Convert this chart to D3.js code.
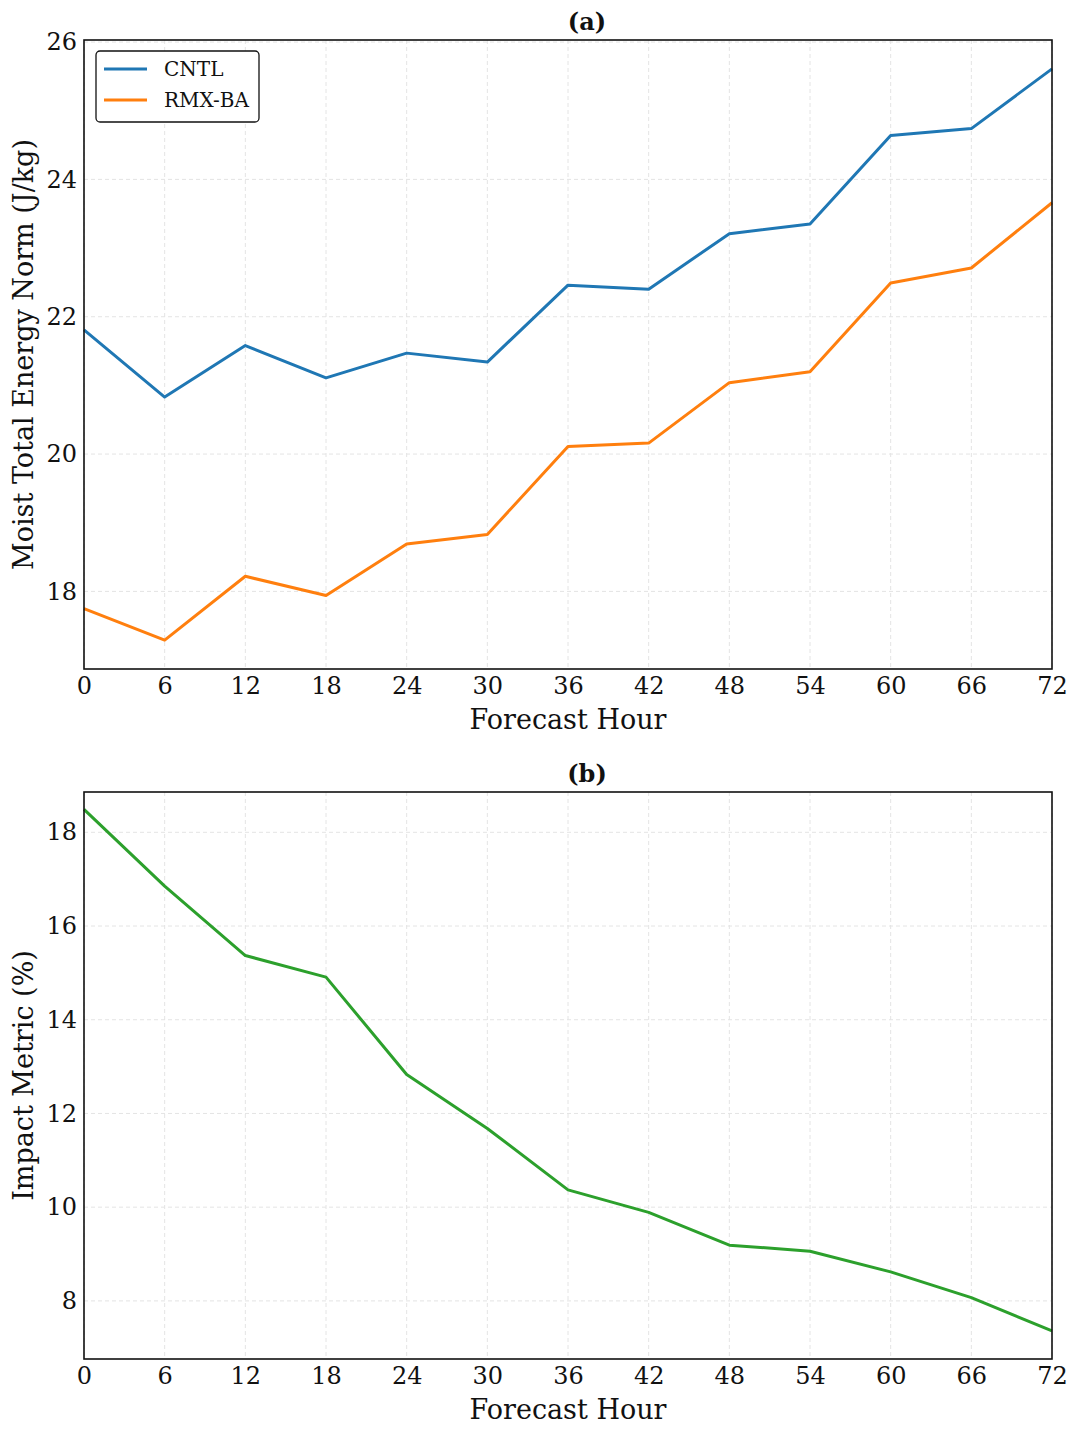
<!DOCTYPE html>
<html lang="en">
<head>
    <meta charset="UTF-8">
    <title>Forecast Hour Energy Norm</title>
    <style>
        body {
            margin: 0;
            padding: 0;
            background-color: #ffffff;
            overflow: hidden;
        }

        svg {
            display: block;
            font-family: "DejaVu Serif", serif;
        }

        .grid line {
            stroke: #e4e4e4;
            stroke-width: 1;
            stroke-dasharray: 4 3;
        }
    </style>
</head>
<body>
    <script src="https://d3js.org/d3.v7.min.js"></script>
    <script>
        const hours = [0, 6, 12, 18, 24, 30, 36, 42, 48, 54, 60, 66, 72];
        const cntl = [21.81, 20.83, 21.58, 21.11, 21.47, 21.34, 22.46, 22.40, 23.21, 23.35, 24.64, 24.74, 25.61];
        const rmxba = [17.75, 17.29, 18.22, 17.94, 18.69, 18.83, 20.11, 20.16, 21.04, 21.20, 22.49, 22.71, 23.66];
        const impact = [18.49, 16.85, 15.37, 14.91, 12.83, 11.68, 10.37, 9.89, 9.19, 9.06, 8.62, 8.07, 7.36];
        const ticksA = [18, 20, 22, 24, 26];
        const ticksB = [8, 10, 12, 14, 16, 18];

        const width = 1079;
        const height = 1438;
        const left = 84;
        const right = 1052;

        const svg = d3.select('body')
            .append('svg')
            .attr('width', width)
            .attr('height', height);

        const x = d3.scaleLinear().domain([0, 72]).range([left, right]);

        function drawPanel(opts) {
            const y = d3.scaleLinear().domain(opts.domain).range([opts.bottom, opts.top]);
            const g = svg.append('g');

            // grid
            const grid = g.append('g').attr('class', 'grid');
            grid.selectAll('.gx')
                .data(hours)
                .enter()
                .append('line')
                .attr('x1', d => x(d))
                .attr('x2', d => x(d))
                .attr('y1', opts.top)
                .attr('y2', opts.bottom);
            grid.selectAll('.gy')
                .data(opts.ticks)
                .enter()
                .append('line')
                .attr('x1', left)
                .attr('x2', right)
                .attr('y1', d => y(d))
                .attr('y2', d => y(d));

            // series
            const line = d3.line()
                .x((d, i) => x(hours[i]))
                .y(d => y(d));
            opts.series.forEach(s => {
                g.append('path')
                    .datum(s.values)
                    .attr('fill', 'none')
                    .attr('stroke', s.color)
                    .attr('stroke-width', 3)
                    .attr('stroke-linejoin', 'round')
                    .attr('d', line);
            });

            // axes
            const xAxis = g.append('g')
                .attr('transform', `translate(0,${opts.bottom})`)
                .call(d3.axisBottom(x).tickValues(hours).tickSize(0).tickPadding(8));
            const yAxis = g.append('g')
                .attr('transform', `translate(${left},0)`)
                .call(d3.axisLeft(y).tickValues(opts.ticks).tickSize(0).tickPadding(7));
            [xAxis, yAxis].forEach(a => {
                a.select('.domain').remove();
                a.selectAll('text')
                    .attr('font-family', '"DejaVu Serif", serif')
                    .attr('font-size', 24)
                    .attr('fill', '#111');
            });

            g.append('rect')
                .attr('x', left)
                .attr('y', opts.top)
                .attr('width', right - left)
                .attr('height', opts.bottom - opts.top)
                .attr('fill', 'none')
                .attr('stroke', '#111')
                .attr('stroke-width', 1.6);

            // title and labels
            g.append('text')
                .attr('x', (left + right) / 2 + 19)
                .attr('y', opts.top - 10)
                .attr('text-anchor', 'middle')
                .attr('font-size', 24)
                .attr('font-weight', 'bold')
                .attr('fill', '#111')
                .text(opts.title);

            g.append('text')
                .attr('x', (left + right) / 2)
                .attr('y', opts.bottom + 60)
                .attr('text-anchor', 'middle')
                .attr('font-size', 27)
                .attr('fill', '#111')
                .text('Forecast Hour');

            g.append('text')
                .attr('transform', `translate(33,${(opts.top + opts.bottom) / 2}) rotate(-90)`)
                .attr('text-anchor', 'middle')
                .attr('font-size', 27)
                .attr('fill', '#111')
                .text(opts.ylabel);

            return g;
        }

        const panelA = drawPanel({
            top: 40,
            bottom: 669,
            domain: [16.87, 26.03],
            ticks: ticksA,
            title: '(a)',
            ylabel: 'Moist Total Energy Norm (J/kg)',
            series: [
                { name: 'CNTL', values: cntl, color: '#1f77b4' },
                { name: 'RMX-BA', values: rmxba, color: '#ff7f0e' }
            ]
        });

        drawPanel({
            top: 792,
            bottom: 1359,
            domain: [6.76, 18.86],
            ticks: ticksB,
            title: '(b)',
            ylabel: 'Impact Metric (%)',
            series: [
                { name: 'Impact', values: impact, color: '#2ca02c' }
            ]
        });

        // legend for panel (a)
        const legend = panelA.append('g').attr('transform', 'translate(96,51)');
        legend.append('rect')
            .attr('width', 163)
            .attr('height', 71)
            .attr('rx', 4)
            .attr('fill', '#fff')
            .attr('stroke', '#111')
            .attr('stroke-width', 1.3);
        const legendItems = [
            { name: 'CNTL', color: '#1f77b4' },
            { name: 'RMX-BA', color: '#ff7f0e' }
        ];
        legendItems.forEach((d, i) => {
            const yy = 18 + i * 31;
            legend.append('line')
                .attr('x1', 8)
                .attr('x2', 51)
                .attr('y1', yy)
                .attr('y2', yy)
                .attr('stroke', d.color)
                .attr('stroke-width', 3);
            legend.append('text')
                .attr('x', 68)
                .attr('y', yy + 7)
                .attr('font-size', 20)
                .attr('fill', '#111')
                .text(d.name);
        });
    </script>
</body>
</html>
